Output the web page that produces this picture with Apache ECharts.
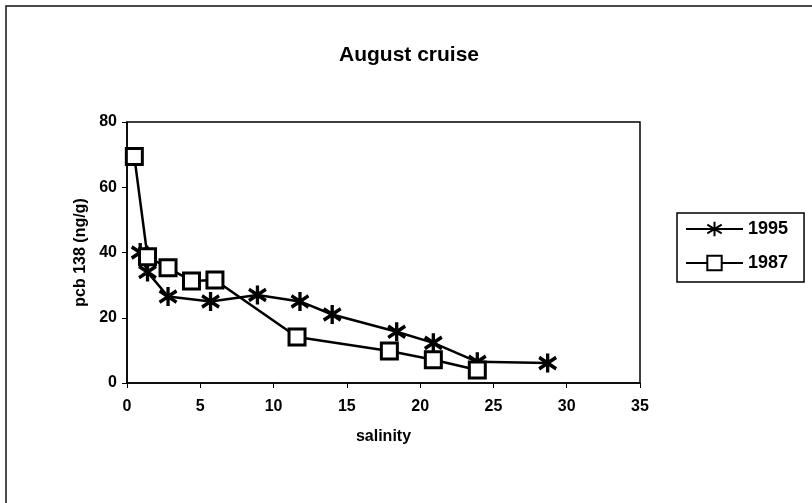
<!DOCTYPE html>
<html>
<head>
<meta charset="utf-8">
<script src="https://cdn.jsdelivr.net/npm/echarts@6/dist/echarts.min.js"></script>
<style>
html,body{margin:0;padding:0;background:#fff;}
#c{width:812px;height:503px;}
</style>
</head>
<body>
<div id="c"></div>
<script>
const title = 'August cruise';
const xName = 'salinity';
const yName = 'pcb 138 (ng/g)';
const series1995Name = '1995';
const series1995X = [0.9, 1.4, 2.8, 5.7, 8.9, 11.8, 14.0, 18.4, 20.9, 23.9, 28.7];
const series1995Y = [40, 34, 26.5, 25, 27, 25, 21, 15.7, 12.3, 6.5, 6.1];
const series1987Name = '1987';
const series1987X = [0.5, 1.4, 2.8, 4.4, 6.0, 11.6, 17.9, 20.9, 23.9];
const series1987Y = [69.4, 38.7, 35.3, 31.3, 31.6, 14.1, 9.8, 7.1, 4.0];

const font = 'Arial, "Liberation Sans", sans-serif';
const asterisk = 'path://M0,-10 L0,10 M-9,-6 L9,6 M-9,6 L9,-6';

const chart = echarts.init(document.getElementById('c'), null, {renderer: 'canvas'});
chart.setOption({
  animation: false,
  backgroundColor: '#fff',
  graphic: [{
    type: 'rect', shape: {x: 6, y: 6, width: 820, height: 520},
    style: {fill: 'none', stroke: '#111', lineWidth: 1.5}, silent: true
  }],
  title: {
    text: title, left: 404, top: 40, textAlign: 'center',
    textStyle: {fontFamily: font, fontWeight: 'bold', fontSize: 21, color: '#000'}
  },
  legend: {
    orient: 'vertical', left: 677, top: 213,
    padding: [7, 16, 10, 8], itemGap: 16,
    itemWidth: 57, itemHeight: 18,
    borderColor: '#000', borderWidth: 1.5,
    textStyle: {fontFamily: font, fontWeight: 'bold', fontSize: 18, color: '#000'},
    data: [series1995Name, series1987Name]
  },
  grid: {
    left: 127, right: 172, top: 122, bottom: 120,
    show: true, borderColor: '#000', borderWidth: 1.5, backgroundColor: '#fff'
  },
  xAxis: {
    type: 'value', min: 0, max: 35, interval: 5,
    name: xName, nameLocation: 'middle', nameGap: 46,
    nameTextStyle: {fontFamily: font, fontWeight: 'bold', fontSize: 16, color: '#000'},
    axisLine: {lineStyle: {color: '#000', width: 1.5}},
    axisTick: {show: true, length: 5, lineStyle: {color: '#000'}},
    axisLabel: {fontFamily: font, fontWeight: 'bold', fontSize: 16, color: '#000', margin: 16},
    splitLine: {show: false}
  },
  yAxis: {
    type: 'value', min: 0, max: 80, interval: 20,
    name: yName, nameLocation: 'middle', nameGap: 31, nameRotate: 90,
    nameTextStyle: {fontFamily: font, fontWeight: 'bold', fontSize: 16, color: '#000'},
    axisLine: {show: true, lineStyle: {color: '#000', width: 1.5}},
    axisTick: {show: true, length: 5, lineStyle: {color: '#000'}},
    axisLabel: {fontFamily: font, fontWeight: 'bold', fontSize: 16, color: '#000', margin: 10},
    splitLine: {show: false}
  },
  series: [{
    name: series1995Name, type: 'line',
    data: series1995X.map((x, i) => [x, series1995Y[i]]),
    symbol: asterisk, symbolSize: [17, 19],
    lineStyle: {color: '#000', width: 2.5},
    itemStyle: {color: '#000', borderColor: '#000', borderWidth: 3.5},
    z: 3
  }, {
    name: series1987Name, type: 'line',
    data: series1987X.map((x, i) => [x, series1987Y[i]]),
    symbol: 'rect', symbolSize: 16,
    lineStyle: {color: '#000', width: 2.5},
    itemStyle: {color: '#fff', borderColor: '#000', borderWidth: 3},
    z: 4
  }]
});
</script>
</body>
</html>
